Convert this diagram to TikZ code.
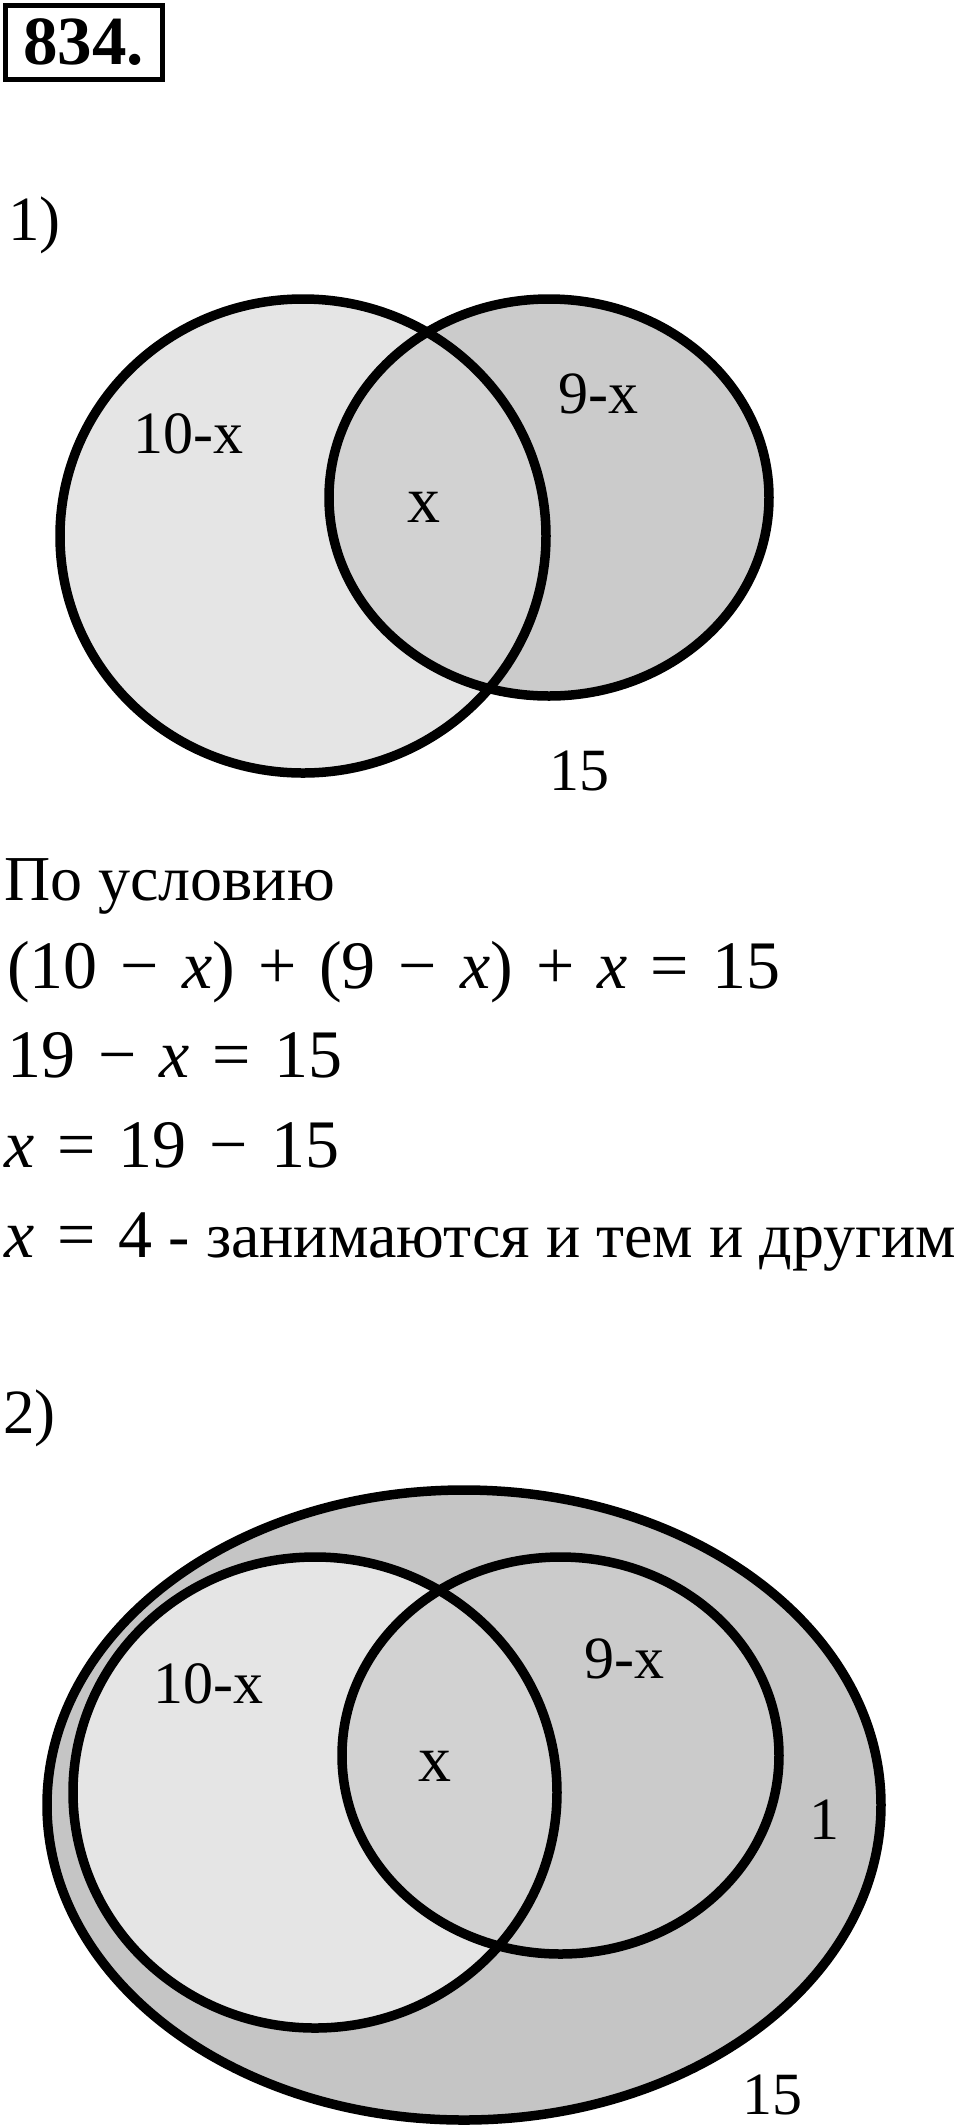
\documentclass[tikz,border=0pt]{standalone}
\usepackage[no-math]{fontspec}
\setmainfont{Liberation Serif}
\newcommand{\fsz}[1]{\fontsize{#1bp}{#1bp}\selectfont}
\newcommand{\bop}[1]{\hspace{23bp}#1\hspace{23bp}}
\newcommand{\vx}{\textit{x}}
\definecolor{leftfill}{HTML}{E5E5E5}
\definecolor{rightfill}{HTML}{CBCBCB}
\definecolor{midfill}{HTML}{D2D2D2}
\definecolor{outerfill}{HTML}{C5C5C5}
\begin{document}
\begin{tikzpicture}[x=1bp,y=-1bp,
  ring/.style={draw=black,line width=9.5bp},
  lbl/.style={anchor=base west,inner sep=0pt,font=\fsz{60}},
  bigx/.style={anchor=base west,inner sep=0pt,font=\fsz{66}},
  txt/.style={anchor=base west,inner sep=0pt,font=\fsz{64}},
  eqn/.style={anchor=base west,inner sep=0pt,font=\fsz{68}}]
\useasboundingbox (0,0) rectangle (960,2126);
% title box
\node[draw=black,line width=4.5bp,anchor=north west,minimum width=157bp,minimum height=74bp,inner sep=0pt,font=\fsz{69}\bfseries] (title) at (3,3) {834.};
\node[txt,font=\fsz{63}] (p1) at (8,240) {1)};
% diagram 1
\fill[leftfill] (303,536) ellipse [x radius=243,y radius=237];
\fill[rightfill] (549,497.5) ellipse [x radius=220,y radius=198.5];
\begin{scope}
  \clip (303,536) ellipse [x radius=243,y radius=237];
  \fill[midfill] (549,497.5) ellipse [x radius=220,y radius=198.5];
\end{scope}
\draw[ring] (303,536) ellipse [x radius=243,y radius=237];
\draw[ring] (549,497.5) ellipse [x radius=220,y radius=198.5];
\node[lbl] (a1) at (133,453) {10-x};
\node[lbl] (b1) at (558,413) {9-x};
\node[bigx] (c1) at (407,522) {x};
\node[lbl] (d1) at (549,790) {15};
% text
\node[txt] (t0) at (4,900) {По условию};
\node[eqn] (t1) at (7,988) {(10\bop{−}\vx)\bop{+}(9\bop{−}\vx)\bop{+}\vx\bop{=}15};
\node[eqn] (t2) at (7,1077) {19\bop{−}\vx\bop{=}15};
\node[eqn] (t3) at (4,1167) {\vx\bop{=}19\bop{−}15};
\node[eqn] (t4) at (4,1257) {\vx\bop{=}4\fsz{64} - занимаются и тем и другим};
\node[txt,font=\fsz{63}] (p2) at (3,1433) {2)};
% diagram 2
\fill[outerfill] (464,1805) ellipse [x radius=417,y radius=315];
\fill[leftfill] (315,1792.5) ellipse [x radius=242,y radius=235.5];
\fill[rightfill] (560.5,1755.5) ellipse [x radius=218.5,y radius=198.5];
\begin{scope}
  \clip (315,1792.5) ellipse [x radius=242,y radius=235.5];
  \fill[midfill] (560.5,1755.5) ellipse [x radius=218.5,y radius=198.5];
\end{scope}
\draw[ring] (464,1805) ellipse [x radius=417,y radius=315];
\draw[ring] (315,1792.5) ellipse [x radius=242,y radius=235.5];
\draw[ring] (560.5,1755.5) ellipse [x radius=218.5,y radius=198.5];
\node[lbl] (a2) at (153,1703) {10-x};
\node[lbl] (b2) at (584,1678) {9-x};
\node[bigx] (c2) at (418,1781) {x};
\node[lbl] (e2) at (809,1839) {1};
\node[lbl] (d2) at (742,2114) {15};
\end{tikzpicture}
\end{document}
